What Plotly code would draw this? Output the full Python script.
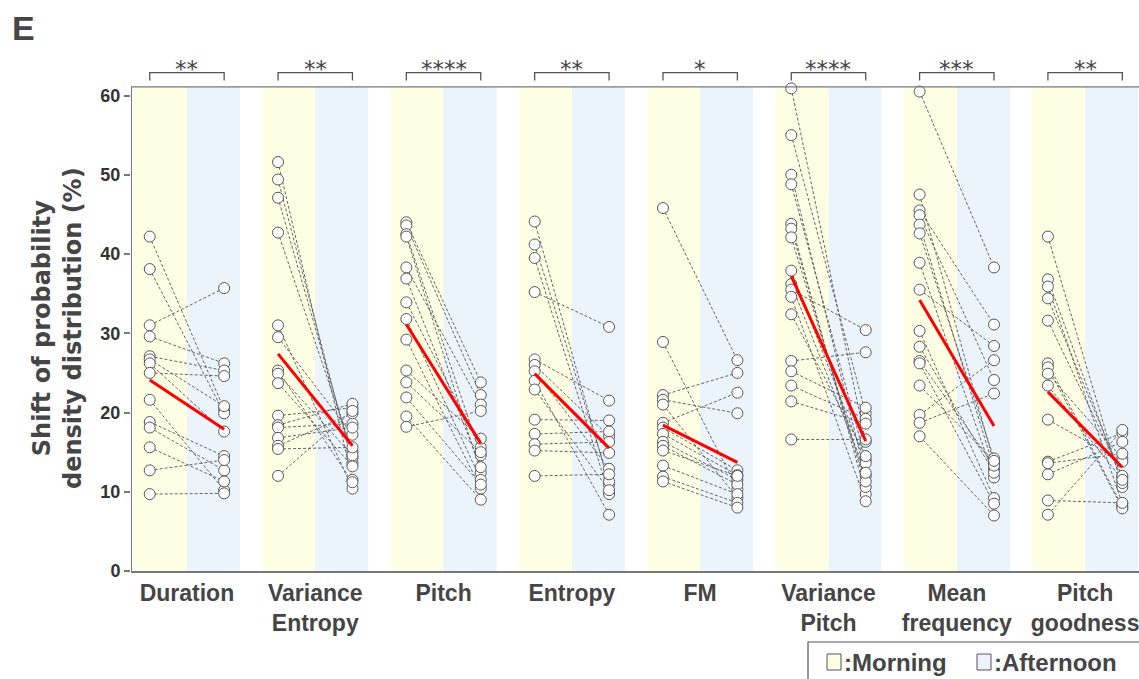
import plotly.graph_objects as go

# ---------------- data ----------------
categories = ["Duration", "Variance<br>Entropy", "Pitch", "Entropy", "FM",
              "Variance<br>Pitch", "Mean<br>frequency", "Pitch<br>goodness"]
significance = ["**", "**", "****", "**", "*", "****", "***", "**"]

duration_morning = [42.2, 38.1, 31.0, 29.6, 27.1, 26.7, 26.2, 25.0, 21.6, 18.8, 18.1, 15.6, 12.7, 9.7]
duration_afternoon = [20.4, 19.9, 35.7, 26.2, 25.3, 20.8, 17.6, 24.6, 10.2, 14.5, 12.7, 11.3, 14.0, 9.8]

var_entropy_morning = [51.6, 49.4, 47.1, 42.7, 31.0, 29.5, 25.3, 24.9, 23.7, 19.6, 18.4, 18.1, 16.8, 15.8, 15.4, 12.0]
var_entropy_afternoon = [11.5, 13.6, 14.3, 15.0, 10.4, 17.2, 11.2, 14.6, 13.2, 20.6, 21.1, 18.6, 18.1, 19.9, 15.6, 20.2]

pitch_morning = [44.0, 43.6, 42.5, 42.2, 38.3, 36.9, 33.9, 31.8, 29.2, 25.3, 23.8, 21.9, 19.5, 18.2]
pitch_afternoon = [23.8, 22.2, 14.6, 12.4, 21.0, 13.1, 15.6, 11.5, 10.4, 16.7, 15.0, 10.9, 9.0, 20.2]

entropy_morning = [44.1, 41.2, 39.5, 35.2, 26.7, 26.0, 25.2, 24.0, 22.9, 19.1, 17.3, 16.0, 15.2, 12.0]
entropy_afternoon = [10.9, 11.3, 9.7, 30.8, 21.5, 17.0, 12.9, 7.1, 10.2, 19.0, 17.6, 16.3, 14.9, 12.2]

fm_morning = [45.8, 28.9, 22.2, 21.6, 21.0, 18.7, 18.1, 17.3, 16.3, 15.8, 15.2, 13.3, 11.9, 11.3]
fm_afternoon = [26.6, 10.3, 25.0, 19.9, 9.2, 22.5, 12.7, 12.1, 11.5, 10.9, 12.0, 9.7, 8.6, 8.0]

var_pitch_morning = [60.9, 55.0, 50.0, 48.8, 43.8, 43.2, 42.1, 37.9, 36.2, 35.5, 34.6, 32.4, 26.5, 25.2, 23.4, 21.4, 16.6]
var_pitch_afternoon = [16.3, 19.9, 12.0, 14.0, 9.7, 10.6, 11.3, 13.6, 12.4, 30.4, 8.8, 14.5, 27.6, 20.6, 19.2, 18.6, 16.6]

mean_freq_morning = [60.5, 47.5, 45.5, 44.9, 43.7, 42.6, 38.9, 35.5, 30.3, 28.3, 26.5, 26.2, 23.4, 19.7, 18.7, 17.0]
mean_freq_afternoon = [38.3, 13.6, 31.1, 24.1, 12.9, 14.2, 11.8, 28.4, 9.2, 12.4, 13.3, 8.5, 13.9, 26.6, 22.4, 7.0]

pitch_good_morning = [42.2, 36.8, 35.9, 34.4, 31.6, 26.2, 25.7, 24.9, 23.4, 19.1, 13.8, 13.6, 12.2, 8.9, 7.1]
pitch_good_afternoon = [10.6, 11.1, 8.5, 11.8, 12.0, 8.1, 7.9, 14.2, 11.5, 13.8, 17.4, 14.8, 16.3, 8.6, 17.8]

group_mean_morning = [24.1, 27.4, 31.1, 24.9, 18.4, 37.2, 34.2, 22.6]
group_mean_afternoon = [17.9, 15.8, 16.1, 15.5, 13.7, 16.4, 18.3, 13.1]

y_ticks = [0, 10, 20, 30, 40, 50, 60]

morning_sets = [duration_morning, var_entropy_morning, pitch_morning, entropy_morning,
                fm_morning, var_pitch_morning, mean_freq_morning, pitch_good_morning]
afternoon_sets = [duration_afternoon, var_entropy_afternoon, pitch_afternoon, entropy_afternoon,
                  fm_afternoon, var_pitch_afternoon, mean_freq_afternoon, pitch_good_afternoon]

# ---------------- styling ----------------
W, H = 1139, 679
ML, MR, MT, MB = 131, 0, 44, 108
X_RANGE = [-0.436, 7.42]
Y_RANGE = [0, 66.5]
BAND_TOP = 61.1
PT_OFF = 0.29
BAND_HALF = 0.413
MORNING_COL = "#FEFEE4"
AFTERNOON_COL = "#EBF3FB"
FONT = "Liberation Sans, Arial, sans-serif"
WIDE_FONT = "DejaVu Sans, Liberation Sans, sans-serif"
TXT = "#454545"

def px_to_paper_x(px):
    return (px - ML) / (W - ML - MR)

def px_to_paper_y(py):
    return (H - MB - py) / (H - MT - MB)

fig = go.Figure()
shapes = []
annotations = []

for i, (m, a) in enumerate(zip(morning_sets, afternoon_sets)):
    xm, xa = i - PT_OFF, i + PT_OFF
    # background bands
    shapes.append(dict(type="rect", xref="x", yref="y", x0=i - BAND_HALF, x1=i, y0=0, y1=BAND_TOP,
                       fillcolor=MORNING_COL, line_width=0, layer="below"))
    shapes.append(dict(type="rect", xref="x", yref="y", x0=i, x1=i + BAND_HALF, y0=0, y1=BAND_TOP,
                       fillcolor=AFTERNOON_COL, line_width=0, layer="below"))
    # paired dashed lines
    lx, ly = [], []
    for vm, va in zip(m, a):
        lx += [xm, xa, None]
        ly += [vm, va, None]
    fig.add_trace(go.Scatter(x=lx, y=ly, mode="lines",
                             line=dict(color="#555555", width=0.9, dash="3px,2px"),
                             hoverinfo="skip", showlegend=False))
    # markers
    fig.add_trace(go.Scatter(x=[xm] * len(m) + [xa] * len(a), y=list(m) + list(a), mode="markers",
                             marker=dict(size=11, color="white", line=dict(color="#555555", width=1)),
                             showlegend=False, cliponaxis=False))
    # mean line
    fig.add_trace(go.Scatter(x=[xm, xa], y=[group_mean_morning[i], group_mean_afternoon[i]],
                             mode="lines", line=dict(color="#FF0000", width=3),
                             showlegend=False))
    # significance bracket
    shapes.append(dict(type="path", xref="x", yref="y",
                       path=f"M {xm},61.9 L {xm},62.9 L {xa},62.9 L {xa},61.9",
                       line=dict(color="#555555", width=1.3)))
    annotations.append(dict(x=i, y=63.3, xref="x", yref="y", text=significance[i],
                            showarrow=False, font=dict(size=23, color=TXT, family=WIDE_FONT)))

# top border and left axis line
shapes.append(dict(type="line", xref="x", yref="y", x0=X_RANGE[0], x1=X_RANGE[1], y0=BAND_TOP, y1=BAND_TOP,
                   line=dict(color="#777777", width=1.3)))
shapes.append(dict(type="line", xref="x", yref="y", x0=X_RANGE[0], x1=X_RANGE[0], y0=0, y1=BAND_TOP,
                   line=dict(color="#777777", width=2)))

# panel letter
annotations.append(dict(x=px_to_paper_x(10), y=px_to_paper_y(28), xref="paper", yref="paper",
                        text="<b>E</b>", showarrow=False, xanchor="left", yanchor="middle",
                        font=dict(size=34, color=TXT, family=FONT)))
# y title
annotations.append(dict(x=px_to_paper_x(58), y=px_to_paper_y(328), xref="paper", yref="paper",
                        text="<b>Shift of probability<br>density distribution (%)</b>", textangle=-90,
                        showarrow=False, xanchor="center", yanchor="middle",
                        font=dict(size=24, color=TXT, family=WIDE_FONT)))

# legend box
shapes.append(dict(type="rect", xref="paper", yref="paper",
                   x0=px_to_paper_x(808), x1=px_to_paper_x(1145),
                   y0=px_to_paper_y(642), y1=px_to_paper_y(690),
                   line=dict(color="#555555", width=1.2), fillcolor="white"))
for sx, col, label in [(827, MORNING_COL, ":Morning"), (977, AFTERNOON_COL, ":Afternoon")]:
    shapes.append(dict(type="rect", xref="paper", yref="paper",
                       x0=px_to_paper_x(sx), x1=px_to_paper_x(sx + 14),
                       y0=px_to_paper_y(654), y1=px_to_paper_y(670),
                       line=dict(color="#555555", width=1), fillcolor=col))
    annotations.append(dict(x=px_to_paper_x(sx + 15), y=px_to_paper_y(662), xref="paper", yref="paper",
                            text=f"<b>{label}</b>", showarrow=False, xanchor="left", yanchor="middle",
                            font=dict(size=24, color=TXT, family=FONT)))

fig.update_layout(
    width=W, height=H,
    margin=dict(l=ML, r=MR, t=MT, b=MB),
    plot_bgcolor="white", paper_bgcolor="white",
    shapes=shapes, annotations=annotations,
    xaxis=dict(range=X_RANGE, tickmode="array", tickvals=list(range(len(categories))),
               ticktext=[f"<b>{c}</b>" for c in categories], showgrid=False, zeroline=False,
               showline=True, linecolor="#777777", linewidth=2, ticks="",
               ticklabeloverflow="allow",
               tickfont=dict(size=23, color=TXT, family=FONT), fixedrange=True),
    yaxis=dict(range=Y_RANGE, tickmode="array", tickvals=y_ticks,
               ticktext=[f"<b>{t}</b>" for t in y_ticks], showgrid=False, zeroline=False,
               showline=False, ticks="outside", ticklen=6, tickwidth=1.5, tickcolor="#777777",
               tickfont=dict(size=18, color="#333333", family=FONT), fixedrange=True),
    showlegend=False,
)

fig.write_html("out.html", config={"displayModeBar": False})
